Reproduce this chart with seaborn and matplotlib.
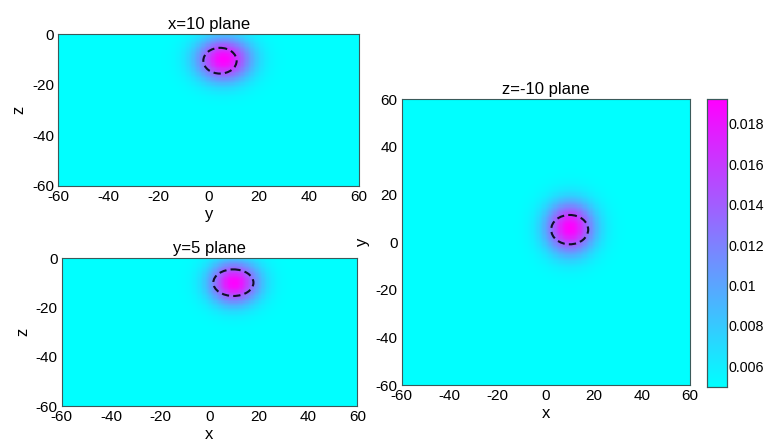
import numpy as np
import pandas as pd
import matplotlib
matplotlib.use("Agg")
import matplotlib.pyplot as plt
from matplotlib.patches import Ellipse
import seaborn as sns

# ---- data ----
source_center = [10, 6, -10]          # x, y, z of the anomaly peak
source_sigma = [7.0, 7.5, 6.0]        # spread along x, y, z
background_value = 0.005
peak_value = 0.0192
cbar_ticks = [0.006, 0.008, 0.010, 0.012, 0.014, 0.016, 0.018]
cbar_labels = ["0.006", "0.008", "0.01", "0.012", "0.014", "0.016", "0.018"]
axis_ticks = [-60, -40, -20, 0, 20, 40, 60]
depth_ticks = [0, -20, -40, -60]
titles = ["x=10 plane", "y=5 plane", "z=-10 plane"]
# ellipses: (center_h, center_v, width, height) in data units
ellipse_x10 = (4.5, -10.5, 13.3, 10.2)
ellipse_y5 = (9.7, -9.9, 16.3, 10.8)
ellipse_z10 = (9.9, 5.3, 15.4, 12.3)

STEP = 0.5

def field(x, y, z):
    cx, cy, cz = source_center
    sx, sy, sz = source_sigma
    r2 = ((x - cx) / sx) ** 2 + ((y - cy) / sy) ** 2 + ((z - cz) / sz) ** 2
    return background_value + (peak_value - background_value) * np.exp(-0.5 * r2)

h_cent = np.arange(-60 + STEP / 2, 60, STEP)          # horizontal cell centres
z_cent = -np.arange(STEP / 2, 60, STEP)               # depth, top row = 0
y_cent = np.arange(60 - STEP / 2, -60, -STEP)         # top row = 60

H, Z = np.meshgrid(h_cent, z_cent)
plane_x10 = pd.DataFrame(field(10.0, H, Z), index=z_cent, columns=h_cent)
plane_y5 = pd.DataFrame(field(H, 5.0, Z), index=z_cent, columns=h_cent)
X, Y = np.meshgrid(h_cent, y_cent)
plane_z10 = pd.DataFrame(field(X, Y, -10.0), index=y_cent, columns=h_cent)

sns.set_style("white")
plt.rcParams["font.family"] = ["Liberation Sans", "DejaVu Sans"]
plt.rcParams["text.color"] = "black"
plt.rcParams["axes.labelcolor"] = "black"
plt.rcParams["axes.titlecolor"] = "black"
FS = 11
FT = 12

fig = plt.figure(figsize=(7.73, 4.47), dpi=100)
ax1 = fig.add_axes([0.0755, 0.5845, 0.389, 0.339])
ax2 = fig.add_axes([0.0798, 0.0917, 0.3824, 0.3304])
ax3 = fig.add_axes([0.5197, 0.138, 0.373, 0.640])
cax = fig.add_axes([0.9142, 0.1349, 0.0267, 0.643])

kw = dict(cmap="cool", vmin=background_value, vmax=peak_value,
          xticklabels=False, yticklabels=False, rasterized=True)
sns.heatmap(plane_x10, ax=ax1, cbar=False, **kw)
sns.heatmap(plane_y5, ax=ax2, cbar=False, **kw)
sns.heatmap(plane_z10, ax=ax3, cbar=True, cbar_ax=cax, **kw)

def hpos(v):
    return (np.asarray(v, dtype=float) + 60) / STEP

def zpos(v):
    return -np.asarray(v, dtype=float) / STEP

def ypos(v):
    return (60 - np.asarray(v, dtype=float)) / STEP

def style(ax, vfun, vticks, xlabel, ylabel, title, ell):
    ax.set_xticks(hpos(axis_ticks))
    ax.set_xticklabels([str(t) for t in axis_ticks], fontsize=FS)
    ax.set_yticks(vfun(vticks))
    ax.set_yticklabels([str(t) for t in vticks], fontsize=FS, rotation=0)
    ax.set_xlabel(xlabel, fontsize=FT, labelpad=2, color="black")
    ax.set_ylabel(ylabel, fontsize=FT, labelpad=4, color="black")
    ax.set_title(title, fontsize=FT, pad=4, color="black")
    for s in ax.spines.values():
        s.set_visible(True)
        s.set_color("#3a5a5a")
        s.set_linewidth(0.8)
    ax.tick_params(direction="in", length=3, width=0.6, color="#3a5a5a",
                   top=True, right=True, bottom=True, left=True, pad=3,
                   labelcolor="black")
    ch, cv, w, h = ell
    e = Ellipse((hpos(ch), vfun(cv)), w / STEP, h / STEP, fill=False,
                edgecolor="#10102a", lw=1.5, ls=(0, (3.5, 2)))
    ax.add_patch(e)

style(ax1, zpos, depth_ticks, "y", "z", titles[0], ellipse_x10)
style(ax2, zpos, depth_ticks, "x", "z", titles[1], ellipse_y5)
style(ax3, ypos, axis_ticks[::-1], "x", "y", titles[2], ellipse_z10)

cax.set_yticks(cbar_ticks)
cax.set_yticklabels(cbar_labels, fontsize=10.3)
cax.tick_params(direction="in", length=3, width=0.6, left=True, right=True,
                pad=0.5, color="#3a5a5a", labelcolor="black")
for s in cax.spines.values():
    s.set_visible(True)
    s.set_color("#3a5a5a")
    s.set_linewidth(0.8)

fig.savefig("out.png", dpi=100)
